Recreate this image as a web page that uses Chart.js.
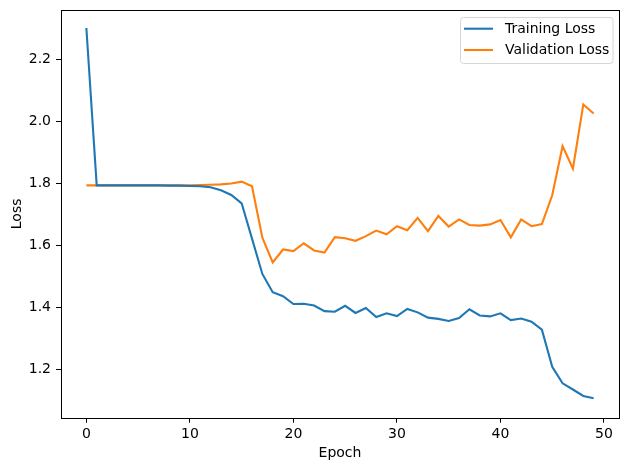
<!DOCTYPE html>
<html>
<head>
<meta charset="utf-8">
<script src="https://cdn.jsdelivr.net/npm/chart.js@4/dist/chart.umd.min.js"></script>
<style>
html,body{margin:0;padding:0;background:#fff;}
#wrap{width:630px;height:470px;position:relative;}
</style>
</head>
<body>
<div id="wrap"><canvas id="c" width="630" height="470"></canvas></div>
<script>
const epochs = [0,1,2,3,4,5,6,7,8,9,10,11,12,13,14,15,16,17,18,19,20,21,22,23,24,25,26,27,28,29,30,31,32,33,34,35,36,37,38,39,40,41,42,43,44,45,46,47,48,49];
const trainingLoss = [2.301,1.793,1.793,1.793,1.793,1.793,1.793,1.793,1.792,1.792,1.791,1.790,1.787,1.777,1.762,1.735,1.621,1.507,1.448,1.435,1.410,1.411,1.405,1.387,1.385,1.404,1.381,1.397,1.368,1.380,1.371,1.394,1.383,1.366,1.362,1.355,1.365,1.393,1.373,1.370,1.380,1.358,1.363,1.353,1.327,1.207,1.154,1.134,1.113,1.106];
const validationLoss = [1.793,1.793,1.793,1.793,1.793,1.793,1.793,1.793,1.793,1.793,1.793,1.794,1.795,1.796,1.799,1.805,1.790,1.624,1.544,1.586,1.581,1.606,1.583,1.576,1.626,1.622,1.614,1.629,1.647,1.635,1.661,1.648,1.688,1.645,1.694,1.660,1.683,1.665,1.663,1.667,1.681,1.625,1.683,1.661,1.668,1.761,1.920,1.847,2.054,2.025];
const xTicks = [0,10,20,30,40,50];
const yTicks = [1.2,1.4,1.6,1.8,2.0,2.2];
const seriesLabels = ['Training Loss','Validation Loss'];
const seriesColors = ['#1f77b4','#ff7f0e'];

const FONT = "'DejaVu Sans', sans-serif";

const framePlugin = {
  id: 'frame',
  afterDatasetsDraw(chart) {
    const {ctx, chartArea: a} = chart;
    ctx.save();
    ctx.strokeStyle = '#000';
    ctx.lineWidth = 1;
    ctx.strokeRect(Math.round(a.left)+0.5, Math.round(a.top)+0.5, Math.round(a.right-a.left), Math.round(a.bottom-a.top));
    // legend
    const bx = 460.5, by = 17.5, bw = 152.5, bh = 46;
    const r = 3;
    ctx.beginPath();
    ctx.moveTo(bx + r, by);
    ctx.lineTo(bx + bw - r, by);
    ctx.arcTo(bx + bw, by, bx + bw, by + r, r);
    ctx.lineTo(bx + bw, by + bh - r);
    ctx.arcTo(bx + bw, by + bh, bx + bw - r, by + bh, r);
    ctx.lineTo(bx + r, by + bh);
    ctx.arcTo(bx, by + bh, bx, by + bh - r, r);
    ctx.lineTo(bx, by + r);
    ctx.arcTo(bx, by, bx + r, by, r);
    ctx.closePath();
    ctx.fillStyle = 'rgba(255,255,255,0.8)';
    ctx.fill();
    ctx.strokeStyle = '#d6d6d6';
    ctx.lineWidth = 1;
    ctx.stroke();
    ctx.font = '14px ' + FONT;
    ctx.textBaseline = 'middle';
    ctx.textAlign = 'left';
    chart.data.datasets.forEach((ds, i) => {
      const y = 28.7 + i * 21.3;
      ctx.strokeStyle = ds.borderColor;
      ctx.lineWidth = 2.1;
      ctx.beginPath();
      ctx.moveTo(464, y);
      ctx.lineTo(493, y);
      ctx.stroke();
      ctx.fillStyle = '#000';
      ctx.fillText(ds.label, 505, y + 0.5);
    });
    ctx.restore();
  }
};

new Chart(document.getElementById('c'), {
  type: 'line',
  data: {
    datasets: [
      { label: seriesLabels[0], data: epochs.map((e, i) => ({x: e, y: trainingLoss[i]})), borderColor: seriesColors[0], backgroundColor: seriesColors[0], borderWidth: 2.1, pointRadius: 0, tension: 0, fill: false },
      { label: seriesLabels[1], data: epochs.map((e, i) => ({x: e, y: validationLoss[i]})), borderColor: seriesColors[1], backgroundColor: seriesColors[1], borderWidth: 2.1, pointRadius: 0, tension: 0, fill: false }
    ]
  },
  options: {
    responsive: false,
    animation: false,
    devicePixelRatio: 1,
    layout: { padding: { top: 10, right: 11, left: 0, bottom: 0 } },
    plugins: { legend: { display: false }, tooltip: { enabled: false } },
    scales: {
      x: {
        type: 'linear',
        min: -2.45, max: 51.45,
        afterBuildTicks: (s) => { s.ticks = xTicks.map(v => ({value: v})); },
        afterFit: (s) => { s.height = 52.3; s.paddingLeft = 0; s.paddingRight = 0; },
        border: { display: false },
        grid: { drawOnChartArea: false, drawTicks: true, tickLength: 5, color: '#000', lineWidth: 1 },
        ticks: { color: '#000', font: { family: FONT, size: 14 }, padding: 3, maxRotation: 0, autoSkip: false, callback: (v) => String(v) },
        title: { display: true, text: 'Epoch', color: '#000', font: { family: FONT, size: 14 }, padding: { top: 0, bottom: 8 } }
      },
      y: {
        type: 'linear',
        min: 1.043, max: 2.359,
        afterBuildTicks: (s) => { s.ticks = yTicks.map(v => ({value: v})); },
        afterFit: (s) => { s.width = 61; s.paddingTop = 0; s.paddingBottom = 0; },
        border: { display: false },
        grid: { drawOnChartArea: false, drawTicks: true, tickLength: 5, color: '#000', lineWidth: 1 },
        ticks: { color: '#000', font: { family: FONT, size: 14 }, padding: 5, autoSkip: false, callback: (v) => Number(v).toFixed(1) },
        title: { display: true, text: 'Loss', color: '#000', font: { family: FONT, size: 14 }, padding: { top: 9, bottom: 0 } }
      }
    }
  },
  plugins: [framePlugin]
});
</script>
</body>
</html>
